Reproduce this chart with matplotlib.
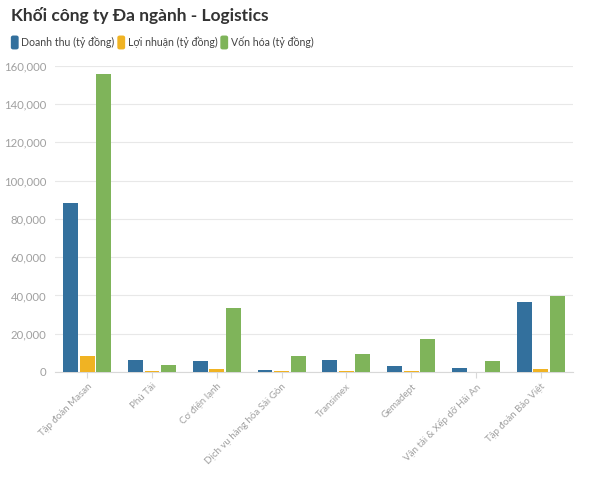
import matplotlib.pyplot as plt
import numpy as np
from matplotlib.ticker import FuncFormatter
from matplotlib.patches import FancyBboxPatch

# Data
companies = ["Tập đoàn Masan", "Phú Tài", "Cơ điện lạnh", "Dịch vụ hàng hóa Sài Gòn",
             "Transimex", "Gemadept", "Vận tải & Xếp dỡ Hải An", "Tập đoàn Bảo Việt"]
doanh_thu = [88500, 6500, 5800, 900, 6200, 3200, 1900, 36700]
loi_nhuan = [8300, 300, 1800, 400, 400, 500, 200, 1800]
von_hoa = [155600, 3800, 33600, 8400, 9500, 17000, 5700, 39800]
series_names = ["Doanh thu (tỷ đồng)", "Lợi nhuận (tỷ đồng)", "Vốn hóa (tỷ đồng)"]
colors = ["#33709d", "#f0b323", "#7fb45a"]

plt.rcParams['font.family'] = ['Lato', 'DejaVu Sans']

fig = plt.figure(figsize=(6.02, 4.8), dpi=100)
ax = fig.add_axes([0.091, 0.225, 0.861, 0.638])

x = np.arange(len(companies))
w = 0.23
gap = 0.025
for i, vals in enumerate([doanh_thu, loi_nhuan, von_hoa]):
    ax.bar(x + (i - 1) * (w + gap), vals, width=w, color=colors[i], zorder=3)

ax.set_xlim(-0.5, len(companies) - 0.5)
ax.set_ylim(0, 160000)
ax.set_yticks(np.arange(0, 160001, 20000))
ax.yaxis.set_major_formatter(FuncFormatter(lambda v, p: f"{int(v):,}"))
ax.grid(axis='y', color='#e8e8e8', linewidth=0.8, zorder=0)
for s in ['top', 'right', 'left']:
    ax.spines[s].set_visible(False)
ax.spines['bottom'].set_color('#d8d8d8')
ax.tick_params(axis='y', length=0, labelsize=8.2, labelcolor='#a0a0a0', pad=6)
ax.tick_params(axis='x', length=4, color='#d8d8d8', labelsize=7, labelcolor='#a0a0a0', pad=3)
ax.set_xticks(x)
ax.set_xticklabels(companies, rotation=45, ha='right', rotation_mode='anchor')

# Title
fig.text(0.018, 0.985, "Khối công ty Đa ngành - Logistics", fontsize=12.5, fontweight='bold',
         color='#333333', va='top', ha='left')

# Legend
lx = 0.018
for name, c in zip(series_names, colors):
    box = FancyBboxPatch((lx, 0.897), 0.013, 0.029, boxstyle="round,pad=0,rounding_size=0.004",
                         transform=fig.transFigure, facecolor=c, edgecolor='none')
    fig.patches.append(box)
    t = fig.text(lx + 0.017, 0.911, name, fontsize=7.6, color='#444444', va='center', ha='left')
    fig.canvas.draw()
    bb = t.get_window_extent().transformed(fig.transFigure.inverted())
    lx = bb.x1 + 0.005

fig.savefig("out.png", dpi=100)
